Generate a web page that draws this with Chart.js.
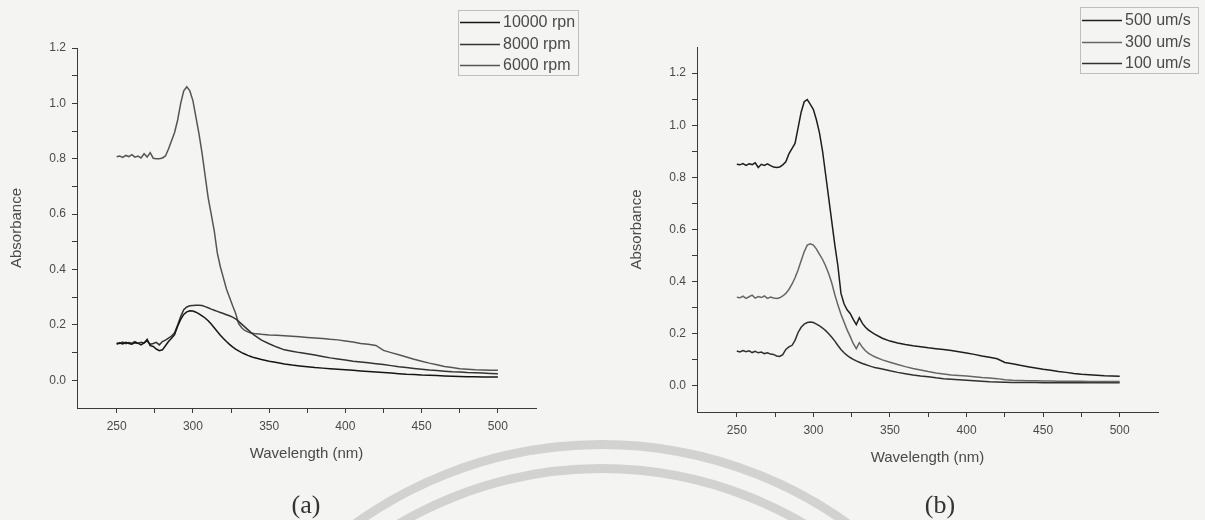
<!DOCTYPE html>
<html>
<head>
<meta charset="utf-8">
<title>UV-Vis absorbance</title>
<script src="https://cdn.jsdelivr.net/npm/chart.js@4.4.1/dist/chart.umd.min.js"></script>
<style>
  body { margin: 0; background: #f4f4f2; width: 1205px; height: 520px; overflow: hidden; position: relative; }
  .panel { position: absolute; top: 0; height: 520px; }
  #wrapA { left: 0; width: 600px; }
  #wrapB { left: 600px; width: 605px; }
  .tag { position: absolute; font-family: "Liberation Serif", serif; font-size: 26px; color: #333; transform: translate(-50%, -50%); }
  /* faint watermark rings of the scanned page */
  .ring { position: absolute; border: 9px solid #d2d2d0; border-radius: 50%; box-sizing: border-box; }
  #ringOut { left: 175px; top: 440px; width: 853px; height: 853px; }
  #ringIn { left: 199px; top: 464px; width: 805px; height: 805px; }
</style>
</head>
<body>
<div class="ring" id="ringOut"></div>
<div class="ring" id="ringIn"></div>
<div class="panel" id="wrapA"><canvas id="chartA" width="600" height="520"></canvas></div>
<div class="panel" id="wrapB"><canvas id="chartB" width="605" height="520"></canvas></div>
<div class="tag" style="left:306px;top:505px">(a)</div>
<div class="tag" style="left:940px;top:505px">(b)</div>
<script>
// wavelength grid (nm), shared by every curve
var wavelength = [
  250,252,254,256,258,260,262,264,266,268,
  270,272,274,276,278,280,282,284,286,288,
  290,292,294,296,298,300,302,304,306,308,
  310,312,314,316,318,320,322,324,326,328,
  330,332,334,336,338,340,
  345,350,355,360,365,370,375,380,385,390,
  395,400,405,410,415,420,425,430,435,440,
  445,450,455,460,465,470,475,480,485,490,
  495,500]

// (a) spin speed
var namesA = ["10000 rpn", "8000 rpm", "6000 rpm"]
var abs10000 = [
  0.130,0.135,0.131,0.137,0.133,0.130,0.136,0.134,0.128,0.135,
  0.148,0.125,0.122,0.113,0.107,0.110,0.125,0.140,0.152,0.165,
  0.195,0.220,0.238,0.247,0.251,0.250,0.246,0.240,0.233,0.225,
  0.215,0.203,0.190,0.176,0.163,0.151,0.140,0.130,0.121,0.113,
  0.106,0.100,0.095,0.090,0.086,0.082,
  0.075,0.069,0.064,0.059,0.055,0.052,0.049,0.046,0.044,0.042,
  0.040,0.038,0.036,0.034,0.032,0.030,0.028,0.026,0.024,0.022,
  0.021,0.019,0.018,0.017,0.016,0.015,0.014,0.013,0.013,0.012,
  0.012,0.012]
var abs8000 = [
  0.135,0.133,0.138,0.132,0.136,0.134,0.140,0.133,0.137,0.135,
  0.142,0.130,0.133,0.137,0.128,0.140,0.145,0.152,0.160,0.172,
  0.200,0.230,0.255,0.265,0.269,0.270,0.271,0.271,0.270,0.266,
  0.262,0.257,0.253,0.249,0.245,0.241,0.237,0.233,0.228,0.222,
  0.213,0.203,0.193,0.183,0.173,0.164,
  0.145,0.132,0.120,0.110,0.105,0.100,0.096,0.091,0.086,0.081,
  0.077,0.073,0.069,0.066,0.063,0.060,0.057,0.053,0.049,0.046,
  0.043,0.040,0.037,0.035,0.033,0.031,0.030,0.028,0.027,0.026,
  0.025,0.024]
var abs6000 = [
  0.807,0.810,0.805,0.812,0.808,0.815,0.806,0.810,0.803,0.818,
  0.806,0.822,0.802,0.800,0.800,0.803,0.810,0.835,0.865,0.895,
  0.940,1.000,1.045,1.060,1.045,1.010,0.950,0.890,0.820,0.740,
  0.660,0.600,0.540,0.460,0.410,0.370,0.330,0.300,0.270,0.242,
  0.205,0.190,0.180,0.175,0.171,0.169,
  0.166,0.164,0.163,0.161,0.159,0.157,0.155,0.153,0.151,0.148,
  0.146,0.142,0.138,0.133,0.130,0.126,0.108,0.100,0.092,0.084,
  0.076,0.069,0.062,0.056,0.050,0.046,0.042,0.040,0.038,0.037,
  0.036,0.036]

// (b) withdrawal speed
var namesB = ["500 um/s", "300 um/s", "100 um/s"]
var abs500 = [
  0.850,0.848,0.853,0.846,0.852,0.849,0.856,0.838,0.850,0.846,
  0.852,0.845,0.840,0.838,0.840,0.848,0.860,0.890,0.910,0.930,
  0.990,1.050,1.090,1.098,1.080,1.060,1.020,0.970,0.900,0.810,
  0.720,0.630,0.540,0.460,0.355,0.315,0.292,0.278,0.255,0.235,
  0.262,0.240,0.225,0.214,0.206,0.199,
  0.183,0.172,0.165,0.159,0.154,0.150,0.146,0.143,0.140,0.136,
  0.131,0.126,0.121,0.115,0.110,0.104,0.090,0.085,0.079,0.074,
  0.069,0.064,0.060,0.055,0.052,0.048,0.045,0.043,0.041,0.039,
  0.038,0.037]
var abs300 = [
  0.340,0.338,0.344,0.336,0.342,0.348,0.337,0.343,0.339,0.345,
  0.336,0.341,0.337,0.335,0.338,0.345,0.355,0.370,0.390,0.415,
  0.445,0.480,0.515,0.540,0.545,0.540,0.525,0.505,0.485,0.460,
  0.430,0.395,0.350,0.310,0.275,0.245,0.215,0.190,0.163,0.143,
  0.166,0.148,0.135,0.125,0.118,0.112,
  0.100,0.091,0.082,0.074,0.067,0.061,0.055,0.050,0.046,0.042,
  0.040,0.038,0.035,0.032,0.030,0.028,0.024,0.022,0.021,0.020,
  0.020,0.019,0.019,0.018,0.018,0.018,0.018,0.017,0.017,0.017,
  0.017,0.017]
var abs100 = [
  0.134,0.130,0.136,0.131,0.135,0.128,0.133,0.127,0.130,0.124,
  0.127,0.122,0.121,0.115,0.113,0.120,0.140,0.150,0.155,0.175,
  0.205,0.225,0.237,0.243,0.245,0.243,0.237,0.230,0.222,0.212,
  0.200,0.187,0.172,0.155,0.140,0.127,0.117,0.109,0.102,0.096,
  0.091,0.086,0.082,0.078,0.074,0.071,
  0.065,0.058,0.052,0.047,0.042,0.038,0.035,0.031,0.028,0.026,
  0.024,0.022,0.020,0.018,0.016,0.015,0.014,0.013,0.013,0.013,
  0.013,0.012,0.012,0.012,0.012,0.012,0.012,0.012,0.012,0.012,
  0.012,0.012]

// axes
var xMin = 224, xMax = 525
var xTicks = [250,275,300,325,350,375,400,425,450,475,500]
var xMajor = [250,300,350,400,450,500]
var yTicks = [0,0.1,0.2,0.3,0.4,0.5,0.6,0.7,0.8,0.9,1.0,1.1,1.2]

var axisColor = "#3a3a3a"
var textColor = "#4a4a4a"
var fontName = "'Liberation Sans', Arial, sans-serif"

// legend box drawn the way Origin does it
var boxLegend = {
  id: "boxLegend",
  afterDraw: function(chart, args, o) {
    var ctx = chart.ctx
    ctx.save()
    ctx.strokeStyle = "#8a8a8a"
    ctx.lineWidth = 1
    ctx.setLineDash([1, 1])
    ctx.strokeRect(o.x + 0.5, o.y + 0.5, o.w, o.h)
    ctx.setLineDash([])
    ctx.font = "16px " + fontName
    ctx.textBaseline = "middle"
    chart.data.datasets.forEach(function(ds, i) {
      var y = Math.round(o.y + o.first + i * o.row) + 0.5
      ctx.strokeStyle = ds.borderColor
      ctx.lineWidth = 1.5
      ctx.beginPath()
      ctx.moveTo(o.x + 2, y)
      ctx.lineTo(o.x + 42, y)
      ctx.stroke()
      ctx.fillStyle = textColor
      ctx.fillText(ds.label, o.x + 45, y)
    })
    ctx.restore()
  }
}

function buildChart(id, series, names, colors, cfg) {
  var datasets = series.map(function(s, i) {
    return {
      label: names[i],
      data: wavelength.map(function(w, k) { return { x: w, y: s[k] } }),
      borderColor: colors[i],
      borderWidth: 1.5,
      pointRadius: 0,
      fill: false,
      tension: 0
    }
  })

  return new Chart(document.getElementById(id), {
    type: "line",
    data: { datasets: datasets },
    options: {
      responsive: false,
      animation: false,
      events: [],
      layout: { padding: cfg.padding },
      plugins: {
        legend: { display: false },
        tooltip: { enabled: false },
        boxLegend: cfg.legend
      },
      scales: {
        x: {
          type: "linear",
          min: xMin,
          max: xMax,
          afterBuildTicks: function(s) { s.ticks = xTicks.map(function(v) { return { value: v } }) },
          afterFit: function(s) { s.height = 55 },
          grid: { drawOnChartArea: false, tickLength: 5, tickColor: axisColor },
          border: { color: axisColor, width: 1 },
          ticks: {
            padding: 6, color: textColor, maxRotation: 0, autoSkip: false,
            font: { family: fontName, size: 12 },
            callback: function(v) { return xMajor.indexOf(v) >= 0 ? String(v) : "" }
          },
          title: {
            display: true, text: "Wavelength (nm)", color: textColor, padding: 0,
            font: { family: fontName, size: 15 }
          }
        },
        y: {
          type: "linear",
          min: -0.1,
          max: cfg.yMax,
          afterBuildTicks: function(s) { s.ticks = yTicks.map(function(v) { return { value: v } }) },
          afterFit: function(s) { s.width = cfg.yWidth },
          grid: { drawOnChartArea: false, tickLength: 5, tickColor: axisColor },
          border: { color: axisColor, width: 1 },
          ticks: {
            padding: 6, color: textColor, autoSkip: false,
            font: { family: fontName, size: 12 },
            callback: function(v) { return Math.round(v * 10) % 2 === 0 ? v.toFixed(1) : "" }
          },
          title: {
            display: true, text: "Absorbance", color: textColor,
            padding: { top: cfg.yTitlePad, bottom: 0 },
            font: { family: fontName, size: 15 }
          }
        }
      }
    },
    plugins: [boxLegend]
  })
}

buildChart("chartA", [abs10000, abs8000, abs6000], namesA, ["#151515", "#333333", "#555555"], {
  padding: { top: 48, right: 64, bottom: 57, left: 0 },
  yMax: 1.2,
  yWidth: 77,
  yTitlePad: 8,
  legend: { x: 458, y: 10, w: 120, h: 65, first: 12, row: 21.5 }
})

buildChart("chartB", [abs500, abs300, abs100], namesB, ["#1e1e1e", "#666666", "#303030"], {
  padding: { top: 47, right: 47, bottom: 53, left: 0 },
  yMax: 1.3,
  yWidth: 97,
  yTitlePad: 28,
  legend: { x: 480, y: 7, w: 118, h: 66, first: 13, row: 21.5 }
})
</script>
</body>
</html>
